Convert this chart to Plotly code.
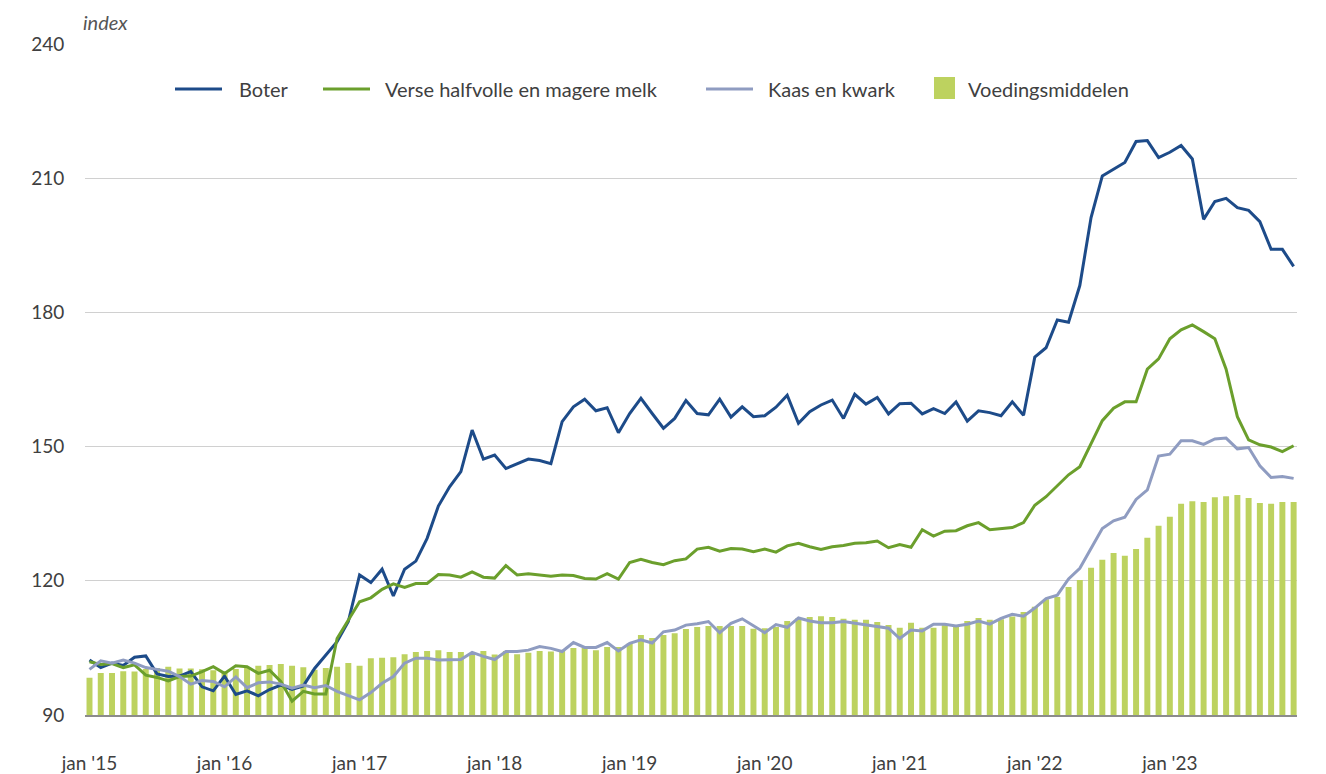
import plotly.graph_objects as go

# monthly, jan 2015 .. dec 2023
months = list(range(108))
tick_pos = [0, 12, 24, 36, 48, 60, 72, 84, 96]
tick_labels = ["jan '15", "jan '16", "jan '17", "jan '18", "jan '19",
               "jan '20", "jan '21", "jan '22", "jan '23"]

boter = [
    102.3, 100.6, 101.6, 101.1, 102.9, 103.2, 99.2, 98.6, 98.7, 99.7, 96.3, 95.4,
    98.7, 94.6, 95.4, 94.3, 95.7, 96.7, 95.7, 96.5, 100.4, 103.4, 106.4, 110.9,
    121.3, 119.6, 122.6, 116.6, 122.6, 124.4, 129.5, 136.7, 141.0, 144.4, 153.7, 147.2,
    148.1, 145.1, 146.2, 147.2, 146.9, 146.2, 155.6, 158.9, 160.6, 158.0, 158.7, 153.1,
    157.4, 160.8, 157.4, 154.1, 156.3, 160.3, 157.4, 157.1, 160.6, 156.6, 158.9, 156.7,
    156.9, 158.8, 161.5, 155.2, 157.8, 159.3, 160.4, 156.3, 161.7, 159.5, 161.0, 157.3,
    159.6, 159.7, 157.3, 158.5, 157.4, 160.0, 155.7, 158.0, 157.6, 156.9, 160.0, 157.0,
    170.0, 172.1, 178.3, 177.8, 186.0, 201.2, 210.5, 212.1, 213.5, 218.2, 218.4, 214.6,
    215.8, 217.3, 214.3, 200.8, 204.8, 205.5, 203.4, 202.8, 200.3, 194.1, 194.1, 190.3,
]

melk = [
    101.9, 101.3, 101.5, 100.6, 101.2, 98.9, 98.4, 97.6, 98.6, 98.7, 99.7, 100.8,
    99.3, 101.0, 100.8, 99.3, 100.0, 97.5, 93.1, 95.3, 94.7, 94.7, 107.1, 111.2,
    115.3, 116.2, 118.1, 119.3, 118.5, 119.4, 119.4, 121.4, 121.3, 120.8, 122.0, 120.8,
    120.6, 123.4, 121.3, 121.6, 121.3, 121.0, 121.3, 121.2, 120.5, 120.4, 121.6, 120.4,
    124.1, 124.8, 124.1, 123.6, 124.5, 124.9, 127.1, 127.5, 126.6, 127.2, 127.1, 126.5,
    127.1, 126.4, 127.8, 128.4, 127.6, 127.0, 127.6, 127.9, 128.4, 128.5, 128.9, 127.4,
    128.1, 127.5, 131.4, 130.0, 131.1, 131.2, 132.3, 133.0, 131.4, 131.7, 131.9, 133.0,
    136.9, 138.8, 141.2, 143.7, 145.5, 150.7, 155.8, 158.6, 160.0, 160.0, 167.3, 169.6,
    174.1, 176.1, 177.2, 175.7, 174.1, 167.3, 156.7, 151.5, 150.4, 149.9, 148.9, 150.2,
]

kaas = [
    100.2, 102.1, 101.6, 102.3, 101.6, 100.6, 100.2, 99.8, 98.6, 96.9, 97.7, 97.5,
    96.3, 98.5, 96.1, 97.2, 97.4, 96.9, 96.0, 96.7, 96.1, 96.6, 95.3, 94.4,
    93.4, 95.0, 97.1, 98.6, 101.6, 102.7, 102.7, 102.3, 102.3, 102.4, 104.0, 103.1,
    102.4, 104.2, 104.2, 104.5, 105.3, 104.9, 104.2, 106.2, 105.1, 105.1, 106.2, 104.3,
    106.0, 106.8, 106.1, 108.6, 109.0, 110.1, 110.4, 110.9, 108.4, 110.5, 111.5, 110.0,
    108.4, 110.2, 109.6, 111.7, 111.0, 110.6, 110.6, 110.9, 110.5, 110.1, 109.8, 109.4,
    107.1, 109.0, 108.8, 110.3, 110.3, 109.9, 110.3, 111.0, 110.3, 111.6, 112.5, 112.1,
    113.9, 116.0, 116.8, 120.4, 122.8, 127.3, 131.7, 133.4, 134.2, 138.2, 140.3, 147.9,
    148.3, 151.3, 151.3, 150.5, 151.7, 151.9, 149.5, 149.8, 145.7, 143.1, 143.3, 142.9,
]

voeding = [
    98.3, 99.4, 99.4, 99.8, 99.7, 100.3, 100.5, 100.8, 100.4, 100.4, 100.2, 100.0,
    99.5, 100.3, 100.6, 101.0, 101.2, 101.4, 101.0, 100.7, 100.1, 100.5, 100.8, 101.6,
    101.0, 102.7, 102.8, 102.9, 103.6, 104.1, 104.3, 104.5, 104.1, 104.1, 103.8, 104.3,
    103.5, 104.3, 103.6, 103.9, 104.3, 104.2, 104.5, 105.0, 105.0, 104.5, 105.2, 105.2,
    106.0, 107.9, 107.2, 107.9, 108.3, 109.2, 109.7, 109.9, 109.9, 109.9, 109.9, 109.3,
    109.4, 109.7, 111.0, 111.7, 111.9, 112.1, 111.9, 111.5, 111.3, 111.3, 110.8, 110.1,
    109.5, 110.6, 109.5, 109.5, 110.1, 110.1, 111.0, 111.7, 111.3, 111.4, 112.0, 113.0,
    114.2, 115.9, 116.4, 118.6, 120.2, 122.9, 124.7, 126.2, 125.6, 127.1, 129.6, 132.3,
    134.3, 137.2, 137.8, 137.6, 138.7, 138.9, 139.2, 138.5, 137.4, 137.2, 137.6, 137.6,
]

font = "Lato, 'Open Sans', sans-serif"
txt = "#404040"

# plot area in page pixels (used only to place the hand-drawn legend)
PX0, PW, PY0, PH = 85, 1212, 715, 671


def px(x):
    return (x - PX0) / PW


def py(y):
    return (PY0 - y) / PH


fig = go.Figure()
lines = [
    ("Boter", boter, "#1d4b89", 175, 237),
    ("Verse halfvolle en magere melk", melk, "#6b9f2c", 323, 383),
    ("Kaas en kwark", kaas, "#8f9cc1", 706, 766),
]
shapes, annots = [], []
for name, vals, col, lx, tx in lines:
    fig.add_trace(go.Scatter(x=months, y=vals, mode="lines", name=name,
                             line=dict(color=col, width=3)))
    shapes.append(dict(type="line", xref="paper", yref="paper",
                       x0=px(lx), x1=px(lx + 47), y0=py(89), y1=py(89),
                       line=dict(color=col, width=3)))
    annots.append(dict(text=name, xref="paper", yref="paper", x=px(tx), y=py(89),
                       xanchor="left", yanchor="middle", showarrow=False,
                       font=dict(size=20, color=txt)))

bar_col = "#bdd25f"
fig.add_trace(go.Bar(x=months, y=voeding, name="Voedingsmiddelen",
                     marker=dict(color=bar_col, line=dict(width=0))))
shapes.append(dict(type="rect", xref="paper", yref="paper",
                   x0=px(934), x1=px(955), y0=py(99), y1=py(77),
                   fillcolor=bar_col, line=dict(width=0)))
annots.append(dict(text="Voedingsmiddelen", xref="paper", yref="paper", x=px(966), y=py(89),
                   xanchor="left", yanchor="middle", showarrow=False,
                   font=dict(size=20, color=txt)))

annots.append(dict(text="<i>index</i>", xref="paper", yref="paper", x=px(81), y=py(22),
                   xanchor="left", yanchor="middle", showarrow=False,
                   font=dict(size=20, color="#555555")))

# page body has an 8px margin, so the figure is drawn 8px smaller than the window
fig.update_layout(
    width=1318, height=766,
    margin=dict(l=77, r=29, t=36, b=59),
    plot_bgcolor="white", paper_bgcolor="white",
    font=dict(family=font, size=19, color=txt),
    bargap=0.47,
    showlegend=False,
    xaxis=dict(range=[-0.4, 107.3], tickmode="array", tickvals=tick_pos, ticktext=tick_labels,
               showgrid=False, zeroline=False, showline=True, linecolor="#8c8c8c", linewidth=2,
               ticks="outside", ticklen=30, tickcolor="rgba(0,0,0,0)", automargin=False,
               tickfont=dict(size=19, color=txt)),
    yaxis=dict(range=[90, 240], dtick=30, tick0=90, showgrid=True, gridcolor="#d0d0d0", gridwidth=1,
               zeroline=False, showline=False, automargin=False,
               ticks="outside", ticklen=16, tickcolor="rgba(0,0,0,0)",
               tickfont=dict(size=19, color=txt)),
    shapes=shapes,
    annotations=annots,
)

fig.write_html("out.html")
